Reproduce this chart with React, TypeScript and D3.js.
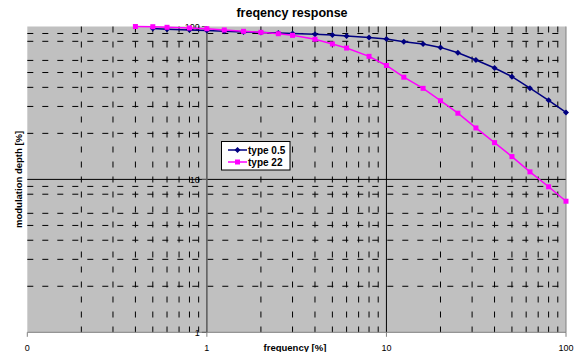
import React from 'react';
import { scaleLog, line } from 'd3';

// frequencies [%]
const freqs22 = [0.4, 0.5, 0.6, 0.8, 1, 1.25, 1.6, 2, 2.5, 3, 4, 5, 6, 8, 10, 12.5, 16, 20, 25, 31.5, 40, 50, 63, 80, 100];
const type22 = [100, 99.7, 98.8, 97.8, 96.7, 94.9, 93, 91.6, 89.7, 87.5, 82.5, 76.9, 72.3, 63.8, 55.6, 46.6, 39.4, 32.7, 27.1, 21.7, 17.4, 14.1, 11.2, 8.95, 7.2];
const freqs05 = [0.5, 0.6, 0.8, 1, 1.25, 1.6, 2, 2.5, 3, 4, 5, 6, 8, 10, 12.5, 16, 20, 25, 31.5, 40, 50, 63, 80, 100];
const type05 = [97, 96, 95, 94, 93, 92, 91.4, 90.7, 90, 89, 88, 86.7, 84.7, 82.8, 79.5, 76.9, 73, 67.4, 60.4, 53.5, 47, 39.5, 32.9, 27.4];

const xTicks = [0.1, 1, 10, 100];
const xTickLabels = ['0', '1', '10', '100'];
const yTicks = [1, 10, 100];
const yTickLabels = ['1', '10', '100'];
const minorSteps = [2, 3, 4, 5, 6, 7, 8, 9];
const hMinorSteps = [2, 3, 4, 5, 6, 8, 9]; // the 7s don't show in the picture

const W = 579, H = 352;
const left = 27.3, right = 566, top = 26.5, bottom = 332.3;
const FONT = 'Liberation Sans, Arial, sans-serif';

const App = () => {
  const x = scaleLog().domain([0.1, 100]).range([left, right]);
  const y = scaleLog().domain([1, 100]).range([bottom, top]);

  const vMinor: number[] = [];
  [0.1, 1, 10].forEach(d => minorSteps.forEach(s => vMinor.push(d * s)));
  const hMinor: number[] = [];
  [1, 10].forEach(d => hMinorSteps.forEach(s => hMinor.push(d * s)));

  const mk = (xs: number[]) => line<number>().x((d, i) => x(xs[i])).y(d => y(d));
  const path05 = mk(freqs05)(type05) || '';
  const path22 = mk(freqs22)(type22) || '';

  const ax = x(1);

  return (
    <svg width={W} height={H} style={{ position: 'absolute', left: 0, top: 0 }} fontFamily={FONT}>
      <rect x={0} y={0} width={W} height={H} fill="#fff" />
      <text x={292} y={16.5} textAnchor="middle" fontSize={12.5} fontWeight="bold">freqency response</text>

      <rect x={left} y={top} width={right - left} height={bottom - top} fill="#c0c0c0" />

      {hMinor.map(v => (
        <line key={'h' + v} x1={left} x2={right} y1={y(v)} y2={y(v)} stroke="#000" strokeWidth={1} strokeDasharray="6 9" />
      ))}
      {vMinor.map(v => (
        <line key={'v' + v} x1={x(v)} x2={x(v)} y1={top} y2={bottom} stroke="#000" strokeWidth={1} strokeDasharray="6 9" />
      ))}

      {/* solid decade lines */}
      <line x1={left} x2={right} y1={y(10)} y2={y(10)} stroke="#000" strokeWidth={1} />
      <line x1={x(10)} x2={x(10)} y1={top} y2={bottom} stroke="#000" strokeWidth={1} />
      <line x1={right} x2={right} y1={top} y2={bottom} stroke="#808080" strokeWidth={1} />
      <line x1={left} x2={right} y1={bottom} y2={bottom} stroke="#808080" strokeWidth={1} />
      <line x1={ax} x2={ax} y1={top} y2={bottom} stroke="#606060" strokeWidth={1.6} />

      {/* y axis ticks and labels, at x = 1 */}
      {yTicks.map((v, i) => (
        <g key={'yt' + v}>
          <line x1={ax - 5} x2={ax} y1={y(v)} y2={y(v)} stroke="#606060" strokeWidth={1} />
          <text x={ax - 7} y={y(v) + 3.3} textAnchor="end" fontSize={9}>{yTickLabels[i]}</text>
        </g>
      ))}

      {/* x axis ticks and labels */}
      {xTicks.map((v, i) => (
        <g key={'xt' + v}>
          <line x1={x(v)} x2={x(v)} y1={bottom} y2={bottom + 4.5} stroke="#808080" strokeWidth={1} />
          <text x={x(v)} y={350.5} textAnchor="middle" fontSize={9}>{xTickLabels[i]}</text>
        </g>
      ))}

      <text x={295} y={350.5} textAnchor="middle" fontSize={9.5} fontWeight="bold">frequency [%]</text>
      <text transform={`translate(21.5,${(top + bottom) / 2}) rotate(-90)`} textAnchor="middle" fontSize={9.5} fontWeight="bold">modulation depth [%]</text>

      {/* series */}
      <path d={path05} fill="none" stroke="#000080" strokeWidth={1.5} />
      {type05.map((v, i) => {
        const cx = x(freqs05[i]), cy = y(v);
        return <path key={'d' + i} d={`M${cx},${cy - 3}L${cx + 3},${cy}L${cx},${cy + 3}L${cx - 3},${cy}Z`} fill="#000080" />;
      })}
      <path d={path22} fill="none" stroke="#ff00ff" strokeWidth={1.5} />
      {type22.map((v, i) => (
        <rect key={'s' + i} x={x(freqs22[i]) - 2.5} y={y(v) - 2.5} width={5} height={5} fill="#ff00ff" />
      ))}

      {/* legend */}
      <rect x={221.5} y={141.5} width={68.5} height={28.5} fill="#fff" stroke="#000" strokeWidth={1} />
      <line x1={228} x2={247} y1={150} y2={150} stroke="#000080" strokeWidth={1.5} />
      <path d="M237.5,147L240.5,150L237.5,153L234.5,150Z" fill="#000080" />
      <text x={248} y={153.5} fontSize={10} fontWeight="bold">type 0.5</text>
      <line x1={228} x2={247} y1={162} y2={162} stroke="#ff00ff" strokeWidth={1.5} />
      <rect x={235} y={159.5} width={5} height={5} fill="#ff00ff" />
      <text x={248} y={165.5} fontSize={10} fontWeight="bold">type 22</text>
    </svg>
  );
};

export default App;
